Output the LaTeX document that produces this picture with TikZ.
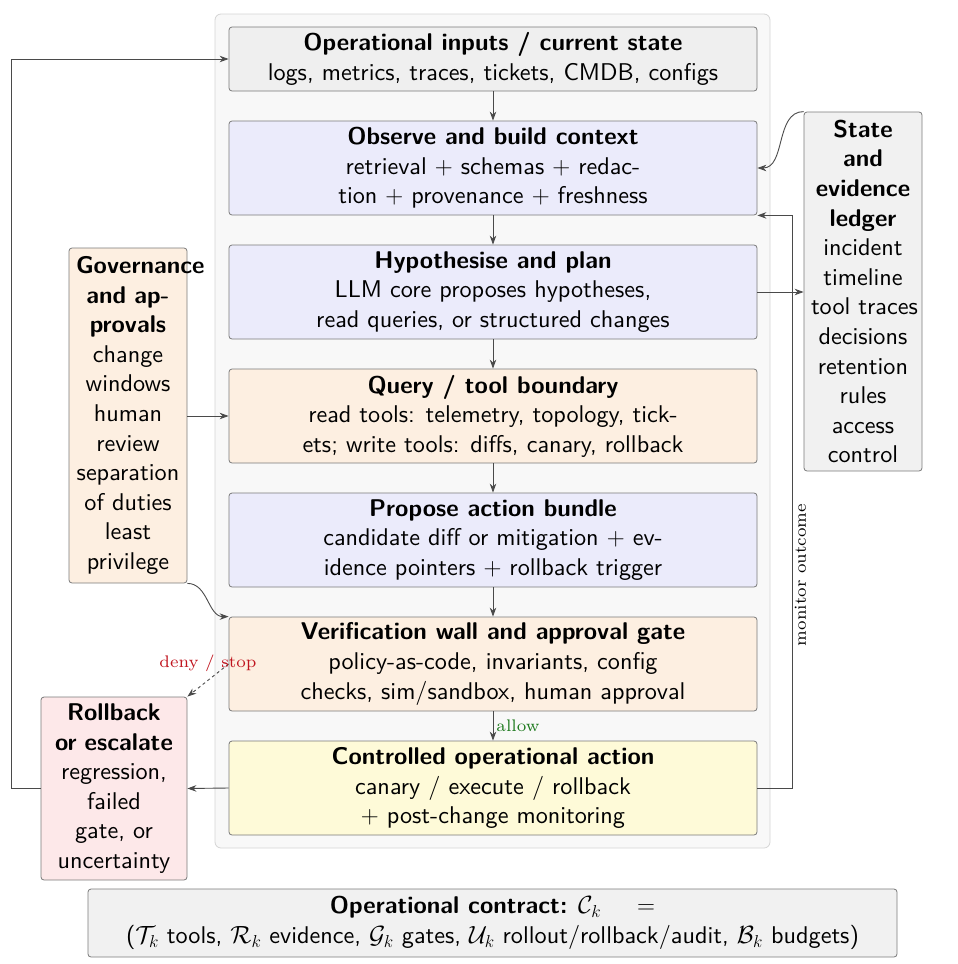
\documentclass[tikz,border=0pt]{standalone}
\usepackage{fontspec}
\setsansfont{lmsans10-regular.otf}[BoldFont=lmsans10-bold.otf, ItalicFont=lmsans10-oblique.otf]
\newfontfamily\lblrm{lmroman7-regular.otf}
\usetikzlibrary{arrows.meta}
\definecolor{panelfill}{HTML}{F8F8F8}
\definecolor{paneldraw}{HTML}{D4D4D4}
\definecolor{boxdraw}{HTML}{7A7A7A}
\definecolor{linecol}{HTML}{4A4A4A}
\definecolor{fgray}{HTML}{EFEFEF}
\definecolor{flav}{HTML}{EBEBFB}
\definecolor{forange}{HTML}{FDEFE1}
\definecolor{fyellow}{HTML}{FEFAD8}
\definecolor{fpink}{HTML}{FDE8E9}
\definecolor{fledger}{HTML}{F1F1F1}
\definecolor{denyred}{HTML}{C0141E}
\definecolor{allowgreen}{HTML}{1E7A1E}
\newcommand\bodyfont{\fontsize{24.2}{29.6}\selectfont\sffamily\hyphenpenalty=10000\exhyphenpenalty=10000}
\newcommand\lblfont{\fontsize{16.8}{20}\selectfont\lblrm}
\begin{document}
\begin{tikzpicture}[x=1pt,y=-1pt,
  box/.style={draw=boxdraw, line width=0.8pt, rounded corners=3pt, align=center, inner sep=0pt, font=\bodyfont},
  mainbox/.style={box, minimum width=528pt, minimum height=94pt},
  sidebox/.style={box, inner xsep=7pt, text width=104pt},
  arr/.style={draw=linecol, line width=0.9pt, -{Stealth[length=9pt,width=6.5pt]}},
  dasharr/.style={arr, dashed},
]
\useasboundingbox (0,0) rectangle (958,964);
\draw[fill=panelfill, draw=paneldraw, line width=0.8pt, rounded corners=6pt] (215,14) rectangle (770,848);

\node[mainbox, fill=fgray, minimum height=64pt] (ops) at (493,59) {\textbf{Operational inputs / current state}\\logs, metrics, traces, tickets, CMDB, configs};
\node[mainbox, fill=flav] (obs) at (493,168) {\textbf{Observe and build context}\\retrieval $+$ schemas $+$ redac-\\tion $+$ provenance $+$ freshness};
\node[mainbox, fill=flav] (hyp) at (493,292) {\textbf{Hypothesise and plan}\\LLM core proposes hypotheses,\\read queries, or structured changes};
\node[mainbox, fill=forange] (qry) at (493,416) {\textbf{Query / tool boundary}\\read tools: telemetry, topology, tick-\\ets; write tools: diffs, canary, rollback};
\node[mainbox, fill=flav] (prp) at (493,540) {\textbf{Propose action bundle}\\candidate diff or mitigation $+$ ev-\\idence pointers $+$ rollback trigger};
\node[mainbox, fill=forange] (ver) at (493,664) {\textbf{Verification wall and approval gate}\\policy-as-code, invariants, config\\checks, sim/sandbox, human approval};
\node[mainbox, fill=fyellow] (ctl) at (493,788) {\textbf{Controlled operational action}\\canary / execute / rollback\\$+$ post-change monitoring};

\node[sidebox, fill=forange, minimum height=335pt] (gov) at (128,415.5) {\textbf{Governance}\\\textbf{and ap-}\\\textbf{provals}\\change\\windows\\human\\review\\separation\\of~duties\\least\\privilege};
\node[sidebox, fill=fledger, minimum height=359pt] (led) at (863,291.5) {\textbf{State}\\\textbf{and}\\\textbf{evidence}\\\textbf{ledger}\\incident\\timeline\\tool~traces\\decisions\\retention\\rules\\access\\control};
\node[box, fill=fpink, inner xsep=7pt, text width=132pt, minimum height=183pt] (rb) at (114,788.5) {\textbf{Rollback}\\\textbf{or~escalate}\\regression,\\failed\\gate,~or\\uncertainty};
\node[box, fill=fledger, minimum width=809pt, minimum height=68pt] (ctr) at (492.5,923) {\textbf{Operational contract:} $\mathcal{C}_k$\hspace{36pt}$=$\\($\mathcal{T}_k$ tools, $\mathcal{R}_k$ evidence, $\mathcal{G}_k$ gates, $\mathcal{U}_k$ rollout/rollback/audit, $\mathcal{B}_k$ budgets)};

\draw[arr] (ops) -- (obs);
\draw[arr] (obs) -- (hyp);
\draw[arr] (hyp) -- (qry);
\draw[arr] (qry) -- (prp);
\draw[arr] (prp) -- (ver);
\draw[arr] (ver) -- node[right, inner sep=3pt, font=\lblfont, text=allowgreen] {allow} (ctl);
\draw[arr] (ctl.west) -- (rb.east);
\draw[arr] (rb.west) -- ++(-29,0) |- (ops.west);
\draw[arr] (ctl.east) -- ++(35,0) |- node[pos=0.186, rotate=90, anchor=north, inner sep=2pt, font=\lblfont, text=black] {monitor outcome} (obs.south east);
\draw[arr] (led.north west) to[out=180, in=0] (obs.east);
\draw[arr] (hyp.east) -- (hyp.east -| led.west);
\draw[arr] (gov.east |- qry.west) -- (qry.west);
\draw[arr] (gov.south east) to[out=0, in=180] (ver.north west);
\draw[dasharr] (ver.west) -- node[pos=0.5, yshift=17pt, inner sep=0pt, font=\lblfont, text=denyred] {deny / stop} (rb.north east);
\end{tikzpicture}
\end{document}
